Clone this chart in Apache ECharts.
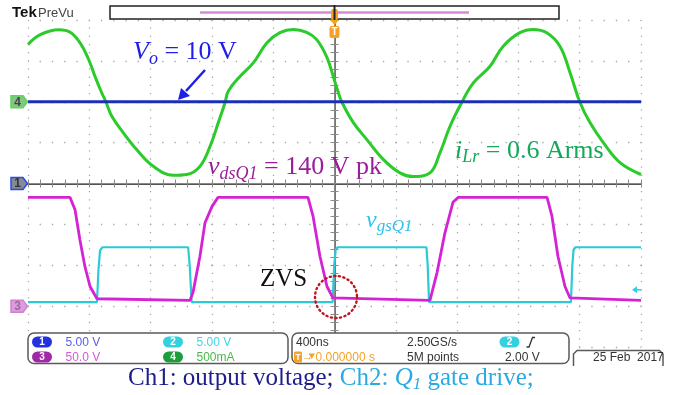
<!DOCTYPE html>
<html>
<head>
<meta charset="utf-8">
<script src="https://cdn.jsdelivr.net/npm/echarts@6/dist/echarts.min.js"></script>
<style>
html, body { margin: 0; padding: 0; background: #fff; }
#scope { width: 674px; height: 395px; }
</style>
</head>
<body>
<div id="scope"></div>
<script>
// horizontal: 400 ns/div, 10 div, trigger in the middle
const timeMin = -2000;
const timeMax = 2000;
const timeDiv = 400;

// Ch4 - resonant inductor current iLr (mA)
const iLrTime = [-2000, -1920, -1800, -1725, -1660, -1605, -1563, -1519, -1492, -1454, -1378, -1291, -1182, -1052, -964, -878,
  -812, -758, -714, -693, -617, -530, -442, -356, -269, -181, -116, -50, 0, 20, 47, 123, 210, 318, 427, 514, 623, 688,
  754, 830, 906, 1015, 1101, 1210, 1297, 1385, 1471, 1537, 1602, 1667, 1754, 1863, 2000];
const iLrCurrent = [700, 820, 880, 850, 720, 520, 310, 110, 0, -175, -380, -585, -790, -900, -890, -790,
  -545, -255, -10, 130, 310, 475, 720, 845, 885, 850, 760, 545, 260, 140, 0, -255, -460, -705, -870, -915, -870, -625,
  -300, -10, 230, 435, 680, 845, 885, 845, 680, 355, -10, -255, -500, -745, -890];

// Ch1 - output voltage Vo (V)
const voTime = [-2000, 2000];
const voVolts = [10, 10];

// Ch2 - gate drive vgsQ1 (V)
const vgsTime = [-2000, -1550, -1540, -1530, -1515, -955, -945, -932, -12, -2, 8, 20, 600, 608, 617, 1543, 1552, 1560, 1572, 2000];
const vgsVolts = [0.5, 0.5, 4.5, 6.8, 7.2, 7.2, 5, 0.5, 0.5, 5, 6.9, 7.2, 7.2, 5, 0.5, 0.5, 5, 6.9, 7.2, 7.2];

// Ch3 - drain-source voltage vdsQ1 (V)
const vdsTime = [-2000, -1726, -1693, -1661, -1628, -1595, -1550, -943, -923, -878, -845, -799, -760, -173, -140, -95, -49, -10,
  623, 669, 721, 773, 806, 1387, 1419, 1458, 1504, 1537, 2000];
const vdsVolts = [133, 133, 118, 81, 48, 24, 9, 7, 17, 61, 102, 122, 133, 133, 110, 61, 24, 10,
  7, 41, 90, 127, 133, 133, 110, 61, 24, 10, 7];

// channel scale (per div), ground offset (div) and readout
const chNames = ['1', '2', '3', '4'];
const chPerDiv = [5, 5, 50, 500];
const chOffsetDiv = [0, -3, -3, 2];
const chReadout = ['5.00 V', '5.00 V', '50.0 V', '500mA'];
const chTrace = ['#1b2fb5', '#2cc9d6', '#d423d4', '#2acb2a'];

const pairs = (xs, ys) => xs.map((x, i) => [x, ys[i]]);

const chart = echarts.init(document.getElementById('scope'), null, { renderer: 'canvas' });

const frameColor = '#666';
const tickColor = '#8a8a8a';

const timeAxis = (extra) => Object.assign({
    type: 'value', min: timeMin, max: timeMax, interval: timeDiv,
    axisLabel: { show: false },
    splitLine: { show: false },
    axisLine: { lineStyle: { color: frameColor, width: 1.5 } },
    axisTick: { inside: true, length: 4, lineStyle: { color: tickColor } },
    minorTick: { show: true, splitNumber: 5, length: 4, lineStyle: { color: tickColor } }
}, extra);

const divAxis = (extra) => Object.assign({
    type: 'value', min: -4, max: 4, interval: 1,
    axisLabel: { show: false },
    splitLine: { show: false },
    axisLine: { lineStyle: { color: frameColor, width: 1.5 } },
    axisTick: { inside: true, length: 4, lineStyle: { color: tickColor } },
    minorTick: { show: true, splitNumber: 5, length: 4, lineStyle: { color: tickColor } }
}, extra);

const centreLine = { lineStyle: { color: '#8a8a8a', width: 1 } };

const channelAxes = chNames.map((n, i) => ({
    type: 'value',
    show: false,
    min: (-4 - chOffsetDiv[i]) * chPerDiv[i],
    max: (4 - chOffsetDiv[i]) * chPerDiv[i]
}));

const option = {
    animation: false,
    backgroundColor: '#fff',
    grid: { left: 28, top: 20, right: 33, bottom: 48, outerBoundsMode: 'none' },
    xAxis: [
        timeAxis({
            position: 'bottom',
            axisLine: { lineStyle: { color: '#222', width: 2 } },
            splitLine: { show: true, lineStyle: { color: '#a8a8a8', width: 1.3, type: [1.3, 6.875], dashOffset: 0.65 } }
        }),
        timeAxis({ position: 'top' }),
        timeAxis({ position: 'bottom', offset: -163.5, axisLine: centreLine, axisTick: { inside: true, length: 3, lineStyle: { color: tickColor } }, minorTick: { show: true, splitNumber: 5, length: 3, lineStyle: { color: tickColor } } }),
        timeAxis({ position: 'bottom', offset: -163.5, axisLine: { show: false }, axisTick: { inside: false, length: 3, lineStyle: { color: tickColor } }, minorTick: { show: true, splitNumber: 5, length: 3, lineStyle: { color: tickColor } } })
    ],
    yAxis: [
        divAxis({
            position: 'left',
            axisLine: { lineStyle: { color: '#888', width: 1.5 } },
            splitLine: { show: true, lineStyle: { color: '#a8a8a8', width: 1.3, type: [1.3, 10.96], dashOffset: 0.65 } }
        }),
        divAxis({ position: 'right' }),
        divAxis({ position: 'left', offset: -306.5, axisLine: centreLine, axisTick: { inside: true, length: 3, lineStyle: { color: tickColor } }, minorTick: { show: true, splitNumber: 5, length: 3, lineStyle: { color: tickColor } } }),
        divAxis({ position: 'left', offset: -306.5, axisLine: { show: false }, axisTick: { inside: false, length: 3, lineStyle: { color: tickColor } }, minorTick: { show: true, splitNumber: 5, length: 3, lineStyle: { color: tickColor } } }),
        ...channelAxes
    ],
    series: [
        { name: 'Ch4', type: 'line', yAxisIndex: 7, data: pairs(iLrTime, iLrCurrent), smooth: 0.4, symbol: 'none', lineStyle: { color: chTrace[3], width: 3 } },
        { name: 'Ch1', type: 'line', yAxisIndex: 4, data: pairs(voTime, voVolts), symbol: 'none', lineStyle: { color: chTrace[0], width: 3 } },
        { name: 'Ch2', type: 'line', yAxisIndex: 5, data: pairs(vgsTime, vgsVolts), symbol: 'none', lineStyle: { color: chTrace[1], width: 2.2 } },
        { name: 'Ch3', type: 'line', yAxisIndex: 6, data: pairs(vdsTime, vdsVolts), symbol: 'none', lineStyle: { color: chTrace[2], width: 2.8 } }
    ]
};
chart.setOption(option);

// --- annotations and scope chrome ---
const measure = document.createElement('canvas').getContext('2d');
const serif = '"Liberation Serif", "Times New Roman", serif';
const sans = '"Liberation Sans", Arial, sans-serif';

// text pieces laid out left to right on one baseline: [text, size, italic, drop, color]
function formula(x, baseline, color, parts) {
    const els = [];
    let cx = x;
    parts.forEach(([text, size, italic, drop, col]) => {
        const font = (italic ? 'italic ' : '') + size + 'px ' + serif;
        measure.font = font;
        els.push({ type: 'text', z: 50, style: { x: cx, y: baseline + (drop || 0) - 0.34 * size, text, font, fill: col || color, verticalAlign: 'middle' } });
        cx += measure.measureText(text).width;
    });
    return els;
}

function label(x, y, text, color, font, align) {
    return { type: 'text', z: 61, style: { x, y, text, fill: color, font: font || '12px ' + sans, verticalAlign: 'middle', align: align || 'left' } };
}

function pill(x, cy, text, color) {
    return [
        { type: 'rect', z: 61, shape: { x, y: cy - 5.5, width: 20, height: 11, r: 5.5 }, style: { fill: color } },
        label(x + 10, cy + 0.5, text, '#fff', 'bold 10px ' + sans, 'center')
    ];
}

const orange = '#f5a227';
const trigX = chart.convertToPixel({ xAxisIndex: 0 }, 0);

const graphics = [
    label(12, 13, 'Tek', '#111', 'bold 15px ' + sans),
    label(38, 13, 'PreVu', '#444', '13px ' + sans),
    { type: 'rect', z: 40, shape: { x: 110, y: 6, width: 449, height: 13 }, style: { fill: '#fff', stroke: '#222', lineWidth: 1.5 } },
    { type: 'line', z: 41, shape: { x1: 200, y1: 12.5, x2: 469, y2: 12.5 }, style: { stroke: '#d68ad6', lineWidth: 2.5 } },
    { type: 'rect', z: 42, shape: { x: trigX - 3.5, y: 9, width: 7, height: 11, r: 2 }, style: { fill: orange } },
    { type: 'line', z: 43, shape: { x1: trigX, y1: 5, x2: trigX, y2: 20 }, style: { stroke: '#222', lineWidth: 2 } },
    { type: 'polygon', z: 42, shape: { points: [[trigX - 4.5, 20], [trigX + 4.5, 20], [trigX, 25]] }, style: { fill: orange } },
    { type: 'rect', z: 42, shape: { x: trigX - 5, y: 26, width: 10, height: 12, r: 2 }, style: { fill: orange } },
    label(trigX, 32.5, 'T', '#fff', 'bold 10px ' + sans, 'center')
];

// channel ground markers on the left edge
const markerFill = { '1': '#858a95', '3': '#dc9ddc', '4': '#84c484' };
const markerStroke = { '1': '#2a4ae8', '3': '#d080d0', '4': '#5ad85a' };
const markerText = { '1': '#333', '3': '#9a6a9a', '4': '#444' };
[3, 0, 2].forEach(i => {
    const name = chNames[i];
    const p = chart.convertToPixel({ xAxisIndex: 0, yAxisIndex: 4 + i }, [timeMin, 0]);
    const x0 = p[0] - 17, c = p[1];
    graphics.push({ type: 'polygon', z: 45, shape: { points: [[x0, c - 6], [x0 + 12, c - 6], [p[0] - 0.5, c], [x0 + 12, c + 6], [x0, c + 6]] }, style: { fill: markerFill[name], stroke: markerStroke[name], lineWidth: 1.5 } });
    graphics.push(label(x0 + 6.5, c + 0.5, name, markerText[name], 'bold 12px ' + sans, 'center'));
});

// trigger level arrow (ch2, 2.00 V) on the right edge
const trigLevel = chart.convertToPixel({ xAxisIndex: 0, yAxisIndex: 5 }, [timeMax, 2.0]);
graphics.push({ type: 'polygon', z: 45, shape: { points: [[trigLevel[0] - 9, trigLevel[1]], [trigLevel[0] - 4, trigLevel[1] - 3.5], [trigLevel[0] - 4, trigLevel[1] + 3.5]] }, style: { fill: '#30d0e0' } });
graphics.push({ type: 'line', z: 45, shape: { x1: trigLevel[0] - 5, y1: trigLevel[1], x2: trigLevel[0], y2: trigLevel[1] }, style: { stroke: '#30d0e0', lineWidth: 1.5 } });

// annotations
graphics.push(...formula(133, 61.5, '#1e1ee6', [['V', 26, true], ['o', 18, true, 4], [' = 10 V', 26, false]]));
graphics.push({ type: 'line', z: 50, shape: { x1: 205, y1: 70, x2: 186, y2: 91 }, style: { stroke: '#1e1ee6', lineWidth: 2.5 } });
graphics.push({ type: 'polygon', z: 50, shape: { points: [[178, 100], [190, 96], [181, 88]] }, style: { fill: '#1e1ee6' } });
graphics.push(...formula(208, 176.5, '#9c1c9c', [['v', 26, true], ['dsQ1', 18, true, 3.5], [' = 140 V pk', 26, false]]));
graphics.push(...formula(455, 160, '#14a85a', [['i', 26, true], ['Lr', 18, true, 3.5], [' = 0.6 Arms', 26, false]]));
graphics.push(...formula(366, 229, '#2fc3ea', [['v', 24, true], ['gsQ1', 17, true, 3.5]]));
graphics.push(...formula(260, 288.3, '#111', [['ZVS', 25, false]]));
graphics.push({ type: 'circle', z: 50, shape: { cx: 336, cy: 297, r: 21 }, style: { fill: 'none', stroke: '#c0141e', lineWidth: 2.4, lineDash: [1.2, 3.4], lineCap: 'round' } });

// status bar
graphics.push({ type: 'rect', z: 60, shape: { x: 28, y: 333, width: 260, height: 30.5, r: 6 }, style: { fill: '#fff', stroke: '#5a5a5a', lineWidth: 1.5 } });
graphics.push({ type: 'rect', z: 60, shape: { x: 292, y: 333, width: 277, height: 30.5, r: 6 }, style: { fill: '#fff', stroke: '#5a5a5a', lineWidth: 1.5 } });
graphics.push({ type: 'polyline', z: 60, shape: { points: [[573.5, 366], [573.5, 354], [577, 350.5], [659.5, 350.5], [663, 354], [663, 366]] }, style: { stroke: '#5a5a5a', lineWidth: 1.5, fill: null } });

const pillColor = ['#2232e0', '#33d1e0', '#a02aa6', '#1f9d3d'];
const readColor = ['#5b5bf0', '#3fd3e3', '#d35ad3', '#4cb84c'];
const pillPos = [[32, 342], [163, 342], [32, 357], [163, 357]];
chNames.forEach((n, i) => {
    const [px, py] = pillPos[i];
    graphics.push(...pill(px, py, n, pillColor[i]));
    graphics.push(label(px + 33.5, py + 0.5, chReadout[i], readColor[i]));
});

graphics.push(label(296, 342.5, timeDiv + 'ns', '#333'));
graphics.push({ type: 'rect', z: 61, shape: { x: 294, y: 351.5, width: 8, height: 11, r: 1.5 }, style: { fill: orange } });
graphics.push(label(298, 357.5, 'T', '#fff', 'bold 9px ' + sans, 'center'));
graphics.push(label(302, 357, '→', orange, '11px ' + sans));
graphics.push({ type: 'polygon', z: 61, shape: { points: [[308.5, 353.5], [315, 353.5], [311.75, 359]] }, style: { fill: orange } });
graphics.push(label(315.5, 357.5, '0.000000 s', orange));
graphics.push(label(407, 342.5, '2.50GS/s', '#333'));
graphics.push(label(407, 357.5, '5M points', '#333'));
graphics.push(...pill(499.5, 342, '2', '#33d1e0'));
graphics.push({ type: 'polyline', z: 61, shape: { points: [[526.5, 347], [529, 347], [532.5, 337.5], [535, 337.5]] }, style: { stroke: '#333', lineWidth: 1.3, fill: null } });
graphics.push(label(505, 357.5, '2.00 V', '#333'));
graphics.push(label(593, 358, '25 Feb  2017', '#333'));

// caption
graphics.push(...formula(128, 387, '#1c1c8a', [
    ['Ch1: output voltage; ', 25, false],
    ['Ch2: ', 25, false, 0, '#2aa9e2'],
    ['Q', 25, true, 0, '#2aa9e2'],
    ['1', 17, true, 3, '#2aa9e2'],
    [' gate drive;', 25, false, 0, '#2aa9e2']
]));

chart.setOption({ graphic: graphics });
</script>
</body>
</html>
